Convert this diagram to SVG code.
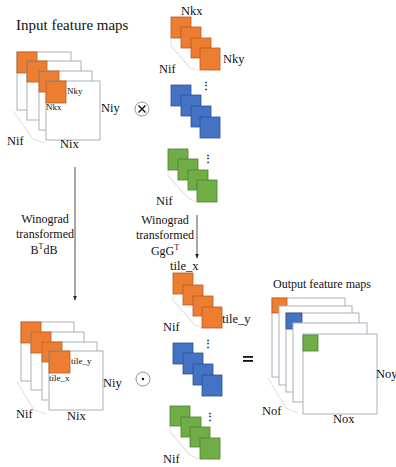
<svg xmlns="http://www.w3.org/2000/svg" width="396" height="467" viewBox="0 0 396 467" font-family="Liberation Serif, serif">
  <defs>
    <style>
      text { font-family: "Liberation Serif", serif; fill: #111; }
      .lbl { font-size: 12.5px; }
      .sm { font-size: 9px; }
      .title { font-size: 15px; }
      .title2 { font-size: 12px; }
      .mid { font-size: 12px; text-anchor: middle; }
      .dots { font-size: 10px; text-anchor: middle; font-weight: bold; }
      .sheet { fill: #fff; stroke: #a9b0b8; stroke-width: 1; }
      .or { fill: #ED7D31; stroke: #B85D20; stroke-width: 0.8; }
      .bl { fill: #4472C4; stroke: #2F528F; stroke-width: 0.8; }
      .gr { fill: #70AD47; stroke: #4E7F30; stroke-width: 0.8; }
      .brace { fill: none; stroke: #e4e4e4; stroke-width: 1.2; }
      .conn { stroke: #222; stroke-width: 0.8; fill: none; }
      .op { fill: #fff; stroke: #777; stroke-width: 0.8; }
    </style>
    <marker id="arrow" viewBox="0 0 10 10" refX="9" refY="5" markerWidth="6" markerHeight="6" orient="auto">
      <path d="M0,1 L10,5 L0,9 z" fill="#222"/>
    </marker>
  </defs>

  <!-- input feature maps -->
  <g id="input-maps">
    <text class="title" x="16" y="30">Input feature maps</text>
    <path class="brace" d="M13,111 L33,139 L46,143"/>
    <rect class="sheet" x="17" y="52" width="54" height="58"/>
    <rect class="or" x="17" y="52" width="20" height="21"/>
    <rect class="sheet" x="27" y="61" width="54" height="59"/>
    <rect class="or" x="27" y="61" width="20" height="21"/>
    <rect class="sheet" x="39" y="71" width="53" height="59"/>
    <rect class="or" x="39" y="71" width="20" height="21"/>
    <rect class="sheet" x="46" y="81" width="54" height="59"/>
    <rect class="or" x="46" y="81" width="20" height="22"/>
    <text class="sm" x="67" y="94">Nky</text>
    <text class="sm" x="46" y="110">Nkx</text>
    <text class="lbl" x="101" y="112">Niy</text>
    <text class="lbl" x="60" y="148">Nix</text>
    <text class="lbl" x="7" y="145">Nif</text>
  </g>

  <!-- convolution operator -->
  <g id="op-conv">
    <circle class="op" cx="142" cy="109" r="7"/>
    <path d="M138.5,105.5 L145.5,112.5 M145.5,105.5 L138.5,112.5" stroke="#111" stroke-width="1.4"/>
  </g>

  <!-- kernels -->
  <g id="kernels">
    <text class="lbl" x="181" y="15">Nkx</text>
    <path class="brace" d="M171,39 L171,46 L190,68 L198,70"/>
    <rect class="or" x="171" y="17" width="20" height="21"/>
    <rect class="or" x="181" y="27" width="20" height="21"/>
    <rect class="or" x="191" y="38" width="20" height="20"/>
    <rect class="or" x="200" y="48" width="20" height="22"/>
    <text class="lbl" x="223" y="63">Nky</text>
    <text class="lbl" x="159" y="73">Nif</text>

    <rect class="bl" x="171" y="85" width="20" height="21"/>
    <rect class="bl" x="181" y="95" width="20" height="21"/>
    <rect class="bl" x="191" y="106" width="20" height="21"/>
    <rect class="bl" x="200" y="117" width="20" height="21"/>
    <text class="dots" x="206" y="89">⋮</text>

    <path class="brace" d="M168,171 L168,176 L188,198 L196,202"/>
    <rect class="gr" x="168" y="149" width="20" height="21"/>
    <rect class="gr" x="178" y="159" width="20" height="21"/>
    <rect class="gr" x="188" y="170" width="20" height="20"/>
    <rect class="gr" x="197" y="180" width="20" height="22"/>
    <text class="dots" x="208" y="162">⋮</text>
    <text class="lbl" x="156" y="205">Nif</text>
  </g>

  <!-- transforms -->
  <g id="connectors">
    <line class="conn" x1="75" y1="167" x2="75" y2="300" marker-end="url(#arrow)"/>
    <line class="conn" x1="197" y1="215" x2="197" y2="258" marker-end="url(#arrow)"/>
  </g>
  <g id="transform-input">
    <text class="mid" x="45" y="223">Winograd</text>
    <text class="mid" x="45" y="238">transformed</text>
    <text class="mid" x="44" y="254">B<tspan dy="-5" font-size="8">T</tspan><tspan dy="5">dB</tspan></text>
  </g>
  <g id="transform-kernel">
    <text class="mid" x="165" y="224">Winograd</text>
    <text class="mid" x="165" y="239">transformed</text>
    <text class="mid" x="165" y="255">GgG<tspan dy="-5" font-size="8">T</tspan></text>
  </g>

  <!-- transformed input tiles -->
  <g id="input-tiles">
    <path class="brace" d="M17,382 L34,410 L46,414"/>
    <rect class="sheet" x="21" y="322" width="53" height="59"/>
    <rect class="or" x="21" y="322" width="20" height="21"/>
    <rect class="sheet" x="31" y="332" width="53" height="58"/>
    <rect class="or" x="31" y="332" width="20" height="21"/>
    <rect class="sheet" x="42" y="342" width="55" height="58"/>
    <rect class="or" x="42" y="342" width="20" height="20"/>
    <rect class="sheet" x="49" y="351" width="54" height="59"/>
    <rect class="or" x="49" y="351" width="21" height="22"/>
    <text class="sm" x="71" y="364">tile_y</text>
    <text class="sm" x="49" y="381">tile_x</text>
    <text class="lbl" x="103" y="387">Niy</text>
    <text class="lbl" x="67" y="420">Nix</text>
    <text class="lbl" x="16" y="418">Nif</text>
  </g>

  <!-- element-wise product -->
  <g id="op-mul">
    <circle class="op" cx="143" cy="379" r="7"/>
    <circle cx="143" cy="379" r="1.2" fill="#111"/>
  </g>

  <!-- transformed kernels -->
  <g id="kernel-tiles">
    <text class="lbl" x="170" y="270">tile_x</text>
    <path class="brace" d="M173,296 L173,300 L194,324 L202,328"/>
    <rect class="or" x="173" y="273" width="20" height="21"/>
    <rect class="or" x="183" y="285" width="20" height="20"/>
    <rect class="or" x="193" y="296" width="20" height="20"/>
    <rect class="or" x="202" y="307" width="20" height="21"/>
    <text class="lbl" x="222" y="323">tile_y</text>
    <text class="lbl" x="163" y="331">Nif</text>

    <rect class="bl" x="173" y="343" width="20" height="21"/>
    <rect class="bl" x="183" y="353" width="20" height="21"/>
    <rect class="bl" x="193" y="364" width="20" height="21"/>
    <rect class="bl" x="202" y="375" width="20" height="21"/>
    <text class="dots" x="208" y="347">⋮</text>

    <path class="brace" d="M170,427 L170,432 L190,455 L198,459"/>
    <rect class="gr" x="170" y="406" width="20" height="20"/>
    <rect class="gr" x="181" y="417" width="20" height="20"/>
    <rect class="gr" x="190" y="427" width="20" height="20"/>
    <rect class="gr" x="200" y="438" width="20" height="21"/>
    <text class="dots" x="210" y="420">⋮</text>
    <text class="lbl" x="163" y="463">Nif</text>
  </g>

  <!-- equals -->
  <g id="op-eq">
    <rect x="243" y="356" width="10" height="1.8" fill="#111"/>
    <rect x="243" y="360" width="10" height="1.8" fill="#111"/>
  </g>

  <!-- output feature maps -->
  <g id="output-maps">
    <text class="title2" x="273" y="288">Output feature maps</text>
    <path class="brace" d="M268,378 L286,408 L298,413"/>
    <rect class="sheet" x="272" y="298" width="73" height="79"/>
    <rect class="or" x="272" y="298" width="15" height="15"/>
    <rect class="sheet" x="279" y="306" width="73" height="79"/>
    <rect class="sheet" x="286" y="313" width="73" height="79"/>
    <rect class="bl" x="286" y="313" width="16" height="16"/>
    <rect class="sheet" x="293" y="323" width="74" height="79"/>
    <rect class="sheet" x="303" y="334" width="74" height="80"/>
    <rect class="gr" x="303" y="335" width="15" height="16"/>
    <text class="lbl" x="376" y="378">Noy</text>
    <text class="lbl" x="333" y="423">Nox</text>
    <text class="lbl" x="262" y="415">Nof</text>
  </g>
</svg>
